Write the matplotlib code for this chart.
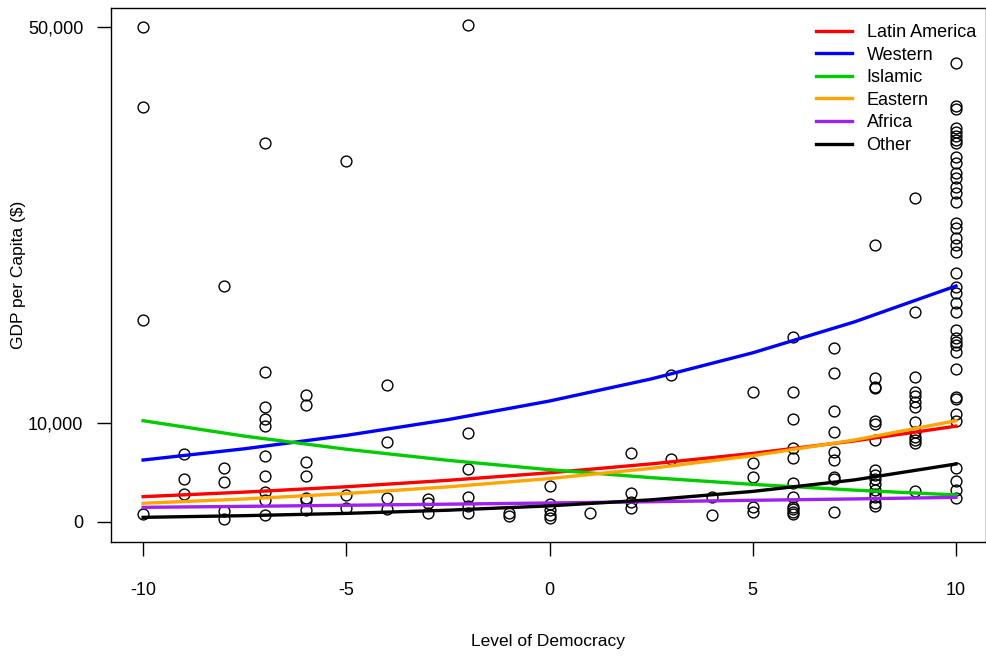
import matplotlib
matplotlib.use("Agg")
import matplotlib.pyplot as plt
import numpy as np

plt.rcParams['font.family'] = ['Liberation Sans', 'DejaVu Sans']

levels = [-10, -9, -8, -7, -6, -5, -4, -3, -2, -1, 0, 1, 2, 3, 4, 5, 6, 7, 8, 9, 10]
gdp_by_level = [
    [49950, 41860, 20340, 780],
    [6840, 4350, 2770],
    [23800, 5390, 4040, 1080, 270],
    [38280, 15150, 11550, 10370, 9700, 6640, 4620, 3000, 2190, 680],
    [12830, 11790, 6000, 4620, 2420, 2190, 1180],
    [36460, 2700, 1400],
    [13840, 8020, 2360, 1280],
    [2260, 1860, 850],
    [50140, 8930, 5290, 2530, 1590, 910],
    [850, 580],
    [3610, 1790, 1180, 680, 340],
    [910],
    [6970, 2870, 2020, 1350],
    [14790, 6330],
    [2460, 680],
    [13070, 5900, 4550, 1520, 950],
    [18690, 13070, 10370, 7470, 6400, 3880, 2460, 1520, 1250, 1010, 780],
    [17550, 15050, 11180, 9090, 7070, 6230, 4480, 4280, 1010],
    [27950, 14480, 13640, 13470, 10170, 9840, 8250, 5220, 4720, 4280, 3810,
     3200, 2800, 2460, 1920, 1590],
    [32700, 21150, 14650, 13130, 12700, 12120, 11550, 10100, 9090, 8530, 8250,
     7980, 3100],
    [46300, 41990, 41660, 39740, 39350, 38950, 38550, 38250, 36870, 36200,
     35190, 34690, 33840, 33170, 32320, 30140, 29640, 28630, 27950, 27270,
     25090, 23740, 23070, 22060, 21210, 19360, 18520, 18180, 17850, 17170,
     15390, 12630, 12390, 10880, 10170, 5390, 4140, 3200, 2360],
]

# fitted curves by region, read at these democracy levels
curve_x = [-10, -7.5, -5, -2.5, 0, 2.5, 5, 7.5, 10]
latin = [2530, 2990, 3530, 4180, 4940, 5840, 6900, 8160, 9650]
western = [6230, 7370, 8720, 10310, 12190, 14420, 17060, 20180, 23810]
islamic = [10200, 8640, 7320, 6200, 5250, 4450, 3770, 3190, 2700]
eastern = [1860, 2300, 2850, 3520, 4360, 5390, 6670, 8250, 10200]
africa = [1450, 1550, 1660, 1770, 1890, 2020, 2160, 2300, 2460]
other = [440, 610, 840, 1160, 1600, 2210, 3060, 4220, 5830]

regions = ["Latin America", "Western", "Islamic", "Eastern", "Africa", "Other"]
colors = ["#FF0000", "#0000FF", "#00CD00", "#FFA500", "#A020F0", "#000000"]

democracy = np.concatenate([[lv] * len(v) for lv, v in zip(levels, gdp_by_level)])
gdp = np.concatenate(gdp_by_level)

fig = plt.figure(figsize=(9.87, 6.58), dpi=100)
ax = fig.add_axes([111 / 987, 116.5 / 658, 875 / 987, 533.5 / 658])

ax.plot(democracy, gdp, linestyle='none', marker='o', markersize=7.8,
        markerfacecolor='none', markeredgecolor='black', markeredgewidth=1.0)

for name, vals, c in zip(regions, [latin, western, islamic, eastern, africa, other], colors):
    ax.plot(curve_x, vals, color=c, linewidth=2.4, label=name)

ax.set_xlim(-10.79, 10.74)
ax.set_ylim(-2000, 51890)
ax.set_xticks([-10, -5, 0, 5, 10])
ax.set_xticklabels(["-10", "-5", "0", "5", "10"])
ax.set_yticks([0, 10000, 50000])
ax.set_yticklabels(["0", "10,000", "50,000"])
ax.tick_params(axis='both', direction='out', length=10, width=1.0, labelsize=13)
ax.tick_params(axis='x', pad=19)
ax.tick_params(axis='y', pad=10)
for s in ax.spines.values():
    s.set_linewidth(1.0)

ax.set_xlabel("Level of Democracy", fontsize=12.5)
ax.set_ylabel("GDP per Capita ($)", fontsize=12.5)
ax.xaxis.set_label_coords(0.5, -0.188)
ax.xaxis.label.set_va('center')
ax.yaxis.set_label_coords(-0.106, 0.5)
ax.yaxis.label.set_va('center')

ax.legend(loc='upper left', bbox_to_anchor=(0.8057, 0.970), frameon=False,
          fontsize=13, handlelength=2.0, handletextpad=0.8, labelspacing=0.31,
          borderpad=0, borderaxespad=0)

fig.savefig("out.png", dpi=100)
